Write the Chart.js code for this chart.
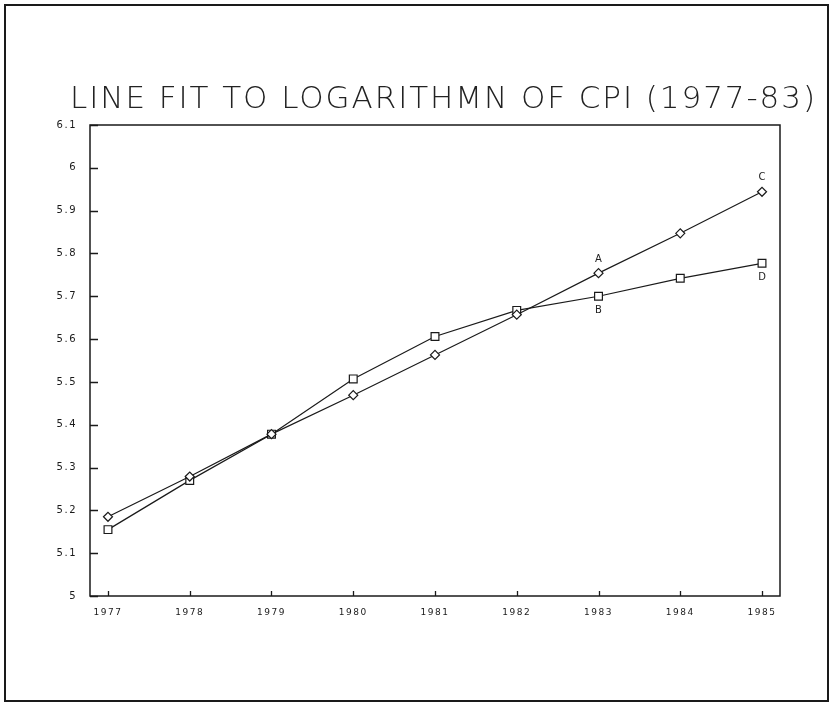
<!DOCTYPE html>
<html>
<head>
<meta charset="utf-8">
<title>Line fit to logarithm of CPI</title>
<script src="https://cdn.jsdelivr.net/npm/chart.js@4/dist/chart.umd.min.js"></script>
<style>
  html, body { margin: 0; padding: 0; background: #fff; }
  #wrap { width: 833px; height: 704px; }
</style>
</head>
<body>
<div id="wrap"><canvas id="cpiChart" width="833" height="704"></canvas></div>
<script>
// data
var years = [1977, 1978, 1979, 1980, 1981, 1982, 1983, 1984, 1985];
var fitLine = [5.185, 5.279, 5.378, 5.469, 5.563, 5.657, 5.754, 5.847, 5.944];
var logCpi = [5.155, 5.270, 5.378, 5.507, 5.606, 5.667, 5.700, 5.742, 5.777];
var titleText = 'LINE FIT TO LOGARITHMN OF CPI (1977-83)';
var tagText = ['A', 'B', 'C', 'D'];
var tagSeries = [0, 1, 0, 1];
var tagYear = [1983, 1983, 1985, 1985];

var ink = '#1a1a1a';

function toPoints(vals) {
    return years.map(function (yr, i) { return { x: yr, y: vals[i] }; });
}

// frame, inward tick marks, title and the A-D tags
var plotterPlugin = {
    id: 'plotter',
    beforeDraw: function (chart) {
        chart.ctx.letterSpacing = '1.5px';
    },
    afterDraw: function (chart) {
        var ctx = chart.ctx;
        var area = chart.chartArea;
        var xs = chart.scales.x, ys = chart.scales.y;
        ctx.save();
        ctx.strokeStyle = ink;
        ctx.lineWidth = 2;
        ctx.strokeRect(5, 5, chart.width - 10, chart.height - 8);

        ctx.lineWidth = 1.5;
        ctx.strokeRect(area.left, area.top, area.right - area.left, area.bottom - area.top);

        ctx.lineWidth = 1.3;
        ctx.beginPath();
        ys.ticks.forEach(function (t) {
            var py = Math.round(ys.getPixelForValue(t.value)) + 0.5;
            ctx.moveTo(area.left, py);
            ctx.lineTo(area.left + 8, py);
        });
        xs.ticks.forEach(function (t) {
            var px = Math.round(xs.getPixelForValue(t.value)) + 0.5;
            ctx.moveTo(px, area.bottom);
            ctx.lineTo(px, area.bottom - 5);
        });
        ctx.stroke();

        // title
        ctx.fillStyle = '#222';
        ctx.font = '200 31px "DejaVu Sans"';
        ctx.letterSpacing = '0px';
        var w = ctx.measureText(titleText).width;
        var spacing = (745 - w) / (titleText.length - 1);
        ctx.letterSpacing = spacing + 'px';
        ctx.textAlign = 'left';
        ctx.textBaseline = 'middle';
        ctx.fillText(titleText, 70, 100);

        // point tags
        ctx.letterSpacing = '0px';
        ctx.font = '10px "DejaVu Sans"';
        ctx.textAlign = 'center';
        tagText.forEach(function (txt, i) {
            var meta = chart.getDatasetMeta(tagSeries[i]);
            var el = meta.data[years.indexOf(tagYear[i])];
            var dy = tagSeries[i] === 0 ? -14 : 14;
            ctx.fillText(txt, el.x, el.y + dy);
        });
        ctx.restore();
    }
};

var ctx = document.getElementById('cpiChart').getContext('2d');

var cpiChart = new Chart(ctx, {
    type: 'line',
    data: {
        datasets: [{
            label: 'Line fit',
            data: toPoints(fitLine),
            borderColor: ink,
            borderWidth: 1.2,
            pointStyle: 'rectRot',
            pointRadius: 4.5,
            pointBorderWidth: 1.2,
            pointBackgroundColor: '#fff',
            pointBorderColor: ink,
            tension: 0
        }, {
            label: 'Log CPI',
            data: toPoints(logCpi),
            borderColor: ink,
            borderWidth: 1.2,
            pointStyle: 'rect',
            pointRadius: 5.5,
            pointBorderWidth: 1.2,
            pointBackgroundColor: '#fff',
            pointBorderColor: ink,
            tension: 0
        }]
    },
    options: {
        responsive: false,
        animation: false,
        devicePixelRatio: 1,
        layout: { padding: { top: 125, right: 53, bottom: 0, left: 0 } },
        plugins: {
            legend: { display: false },
            tooltip: { enabled: false }
        },
        scales: {
            x: {
                type: 'linear',
                min: 1976.78,
                max: 1985.22,
                afterBuildTicks: function (scale) {
                    scale.ticks = years.map(function (v) { return { value: v }; });
                },
                afterFit: function (scale) { scale.height = 108; },
                grid: { display: false, drawTicks: false },
                border: { display: false },
                ticks: {
                    padding: 11,
                    color: ink,
                    font: { family: 'DejaVu Sans', size: 9 },
                    maxRotation: 0,
                    callback: function (v) { return String(v); }
                }
            },
            y: {
                min: 5,
                max: 6.1,
                afterFit: function (scale) { scale.width = 90; },
                grid: { display: false, drawTicks: false },
                border: { display: false },
                ticks: {
                    stepSize: 0.1,
                    padding: 13,
                    color: ink,
                    font: { family: 'DejaVu Sans', size: 10 },
                    callback: function (v) {
                        var r = Math.round(v * 10) / 10;
                        return (r === 5 || r === 6) ? String(r) : r.toFixed(1);
                    }
                }
            }
        }
    },
    plugins: [plotterPlugin]
});
</script>
</body>
</html>
